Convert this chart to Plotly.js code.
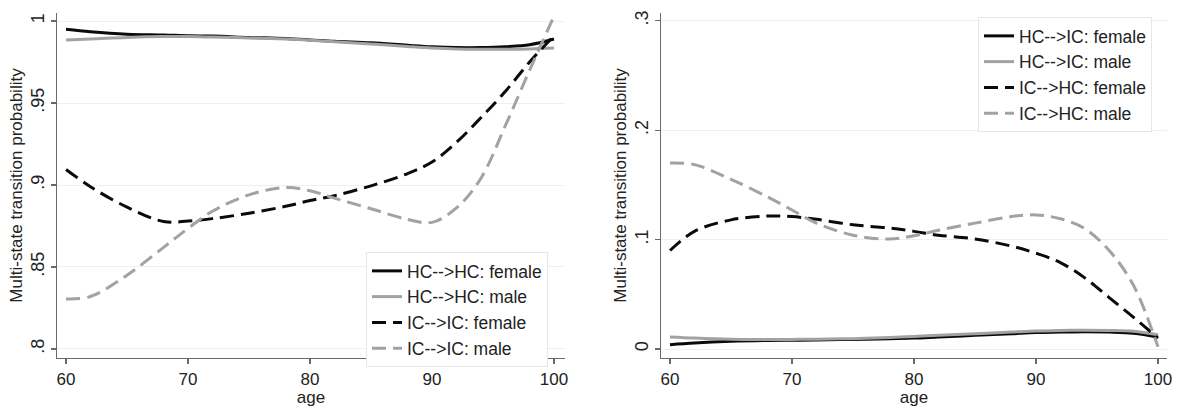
<!DOCTYPE html>
<html>
<head>
<meta charset="utf-8">
<script src="https://cdn.plot.ly/plotly-3.0.1.min.js"></script>
<style>html,body{margin:0;padding:0;background:#fff;}#chart{width:1177px;height:407px;}</style>
</head>
<body>
<div id="chart"></div>
<script>
// Ages (x values shared by all series)
const ages = [60, 62, 65, 68, 70, 72, 75, 78, 80, 82, 85, 88, 90, 92, 94, 96, 98, 100];

// Left panel: staying probabilities
const hcHcFemale = [0.995, 0.9935, 0.992, 0.9915, 0.991, 0.9908, 0.990, 0.9893, 0.9885, 0.9876, 0.9867, 0.9852, 0.9843, 0.9838, 0.9838, 0.9843, 0.9855, 0.989];
const hcHcMale   = [0.9885, 0.989, 0.990, 0.9905, 0.9905, 0.9902, 0.9897, 0.989, 0.9883, 0.9874, 0.986, 0.9845, 0.9836, 0.983, 0.9828, 0.9828, 0.983, 0.9835];
const icIcFemale = [0.9095, 0.899, 0.8865, 0.8777, 0.878, 0.8795, 0.8828, 0.887, 0.8905, 0.8935, 0.8995, 0.907, 0.914, 0.926, 0.941, 0.957, 0.975, 0.991];
const icIcMale   = [0.8305, 0.832, 0.845, 0.862, 0.8735, 0.884, 0.894, 0.8985, 0.8965, 0.892, 0.8855, 0.879, 0.8772, 0.886, 0.904, 0.936, 0.970, 1.003];

// Right panel: transition probabilities
const hcIcFemale = [0.004, 0.0055, 0.007, 0.0078, 0.008, 0.0083, 0.0088, 0.0095, 0.010, 0.011, 0.0125, 0.014, 0.015, 0.0155, 0.0157, 0.0155, 0.0145, 0.011];
const hcIcMale   = [0.011, 0.010, 0.009, 0.0088, 0.0088, 0.009, 0.0095, 0.0105, 0.0115, 0.0125, 0.014, 0.0155, 0.0165, 0.017, 0.0172, 0.017, 0.0162, 0.013];
const icHcFemale = [0.090, 0.1075, 0.118, 0.1215, 0.121, 0.1185, 0.1135, 0.1105, 0.1075, 0.104, 0.1005, 0.094, 0.0875, 0.079, 0.065, 0.047, 0.029, 0.010];
const icHcMale   = [0.170, 0.1685, 0.155, 0.139, 0.127, 0.115, 0.104, 0.1005, 0.1035, 0.1085, 0.115, 0.121, 0.1225, 0.119, 0.110, 0.090, 0.058, 0.002];

// Tick labels
const xTicks = [60, 70, 80, 90, 100];
const xTickText = ['60', '70', '80', '90', '100'];
const yTicksL = [0.8, 0.85, 0.9, 0.95, 1];
const yTickTextL = ['.8', '.85', '.9', '.95', '1'];
const yTicksR = [0, 0.1, 0.2, 0.3];
const yTickTextR = ['0', '.1', '.2', '.3'];

const BLACK = '#0a0a0a', GRAY = '#a2a2a2';
const DASH = '14px,7px';

function tr(y, name, color, dash, xa, ya, lg) {
  return {x: ages, y: y, name: name, type: 'scatter', mode: 'lines',
    line: {color: color, width: 3, dash: dash, shape: 'spline', smoothing: 1},
    xaxis: xa, yaxis: ya, legend: lg, hoverinfo: 'skip'};
}

const data = [
  tr(hcHcFemale, 'HC-->HC: female', BLACK, 'solid', 'x', 'y', 'legend'),
  tr(hcHcMale, 'HC-->HC: male', GRAY, 'solid', 'x', 'y', 'legend'),
  tr(icIcFemale, 'IC-->IC: female', BLACK, DASH, 'x', 'y', 'legend'),
  tr(icIcMale, 'IC-->IC: male', GRAY, DASH, 'x', 'y', 'legend'),
  tr(hcIcFemale, 'HC-->IC: female', BLACK, 'solid', 'x2', 'y2', 'legend2'),
  tr(hcIcMale, 'HC-->IC: male', GRAY, 'solid', 'x2', 'y2', 'legend2'),
  tr(icHcFemale, 'IC-->HC: female', BLACK, DASH, 'x2', 'y2', 'legend2'),
  tr(icHcMale, 'IC-->HC: male', GRAY, DASH, 'x2', 'y2', 'legend2')
];

const FONT = 'Liberation Sans, Arial, sans-serif';
const W = 1177, H = 407;
const yDom = [1 - 358 / H, 1 - 13 / H];

function xAxis(domain, range, anchor) {
  return {domain: domain, range: range, anchor: anchor, tickmode: 'array', tickvals: xTicks, ticktext: xTickText,
    showline: true, linecolor: '#6a6a6a', linewidth: 1.3, ticks: 'outside', ticklen: 5, tickwidth: 1.2, tickcolor: '#6a6a6a',
    showgrid: false, zeroline: false, tickfont: {family: FONT, size: 17, color: '#222'},
    title: {text: 'age', font: {family: FONT, size: 17, color: '#222'}, standoff: 2}, fixedrange: true};
}
function yAxis(domain, range, anchor, tv, tt) {
  return {domain: domain, range: range, anchor: anchor, tickmode: 'array', tickvals: tv, ticktext: tt, tickangle: -90,
    showline: true, linecolor: '#6a6a6a', linewidth: 1.3, ticks: 'outside', ticklen: 5, tickwidth: 1.2, tickcolor: '#6a6a6a',
    showgrid: true, gridcolor: '#efefef', gridwidth: 1, zeroline: false,
    tickfont: {family: FONT, size: 18, color: '#222'},
    title: {text: 'Multi-state transition probability', font: {family: FONT, size: 17, color: '#222'}, standoff: 0}, fixedrange: true};
}

const layout = {
  width: W, height: H,
  margin: {l: 0, r: 0, t: 0, b: 0},
  paper_bgcolor: '#fff', plot_bgcolor: '#fff',
  font: {family: FONT, color: '#222'},
  xaxis: xAxis([57 / W, 565 / W], [59.26, 100.9], 'y'),
  yaxis: yAxis(yDom, [0.7945, 1.0049], 'x', yTicksL, yTickTextL),
  xaxis2: xAxis([661 / W, 1167 / W], [59.26, 100.74], 'y2'),
  yaxis2: yAxis(yDom, [-0.0082, 0.307], 'x2', yTicksR, yTickTextR),
  legend: {x: 366 / W, y: 1 - 252 / H, xanchor: 'left', yanchor: 'top', bgcolor: '#fff', bordercolor: '#e6e6e6', borderwidth: 1,
    font: {family: FONT, size: 17.5, color: '#222'}, tracegroupgap: 0},
  legend2: {x: 978 / W, y: 1 - 17 / H, xanchor: 'left', yanchor: 'top', bgcolor: '#fff', bordercolor: '#e6e6e6', borderwidth: 1,
    font: {family: FONT, size: 17.5, color: '#222'}, tracegroupgap: 0},
  showlegend: true
};

Plotly.newPlot('chart', data, layout, {displayModeBar: false, staticPlot: true});
</script>
</body>
</html>
